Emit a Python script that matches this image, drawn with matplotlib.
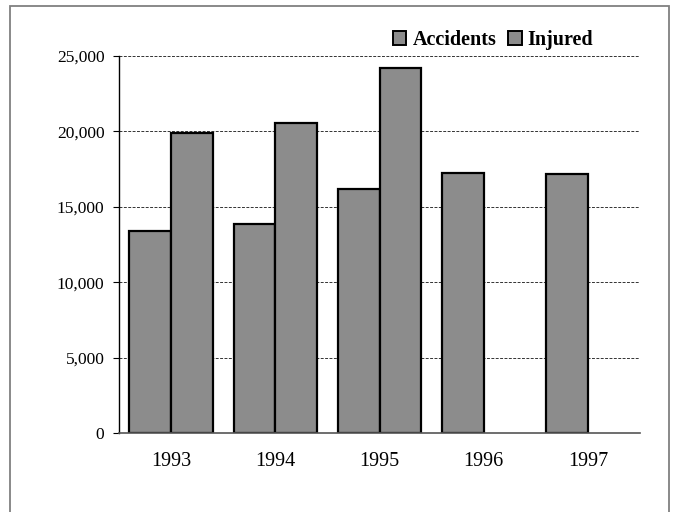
import matplotlib
matplotlib.use("Agg")
import matplotlib.pyplot as plt
from matplotlib.patches import Rectangle
from matplotlib.ticker import FuncFormatter
import numpy as np

years = ["1993", "1994", "1995", "1996", "1997"]
accidents = [13370, 13880, 16210, 17270, 17160]
injured = [19870, 20550, 24230, np.nan, np.nan]

BAR_COLOR = "#8c8c8c"

plt.rcParams["font.family"] = ["Liberation Serif", "DejaVu Serif"]

fig = plt.figure(figsize=(6.73, 5.12), dpi=100)
ax = fig.add_axes([119 / 673, 79 / 512, 521 / 673, 377 / 512])

x = np.arange(len(years))
w = 0.4
ax.bar(x - w / 2, accidents, w, color=BAR_COLOR, edgecolor="black",
       linewidth=1.6, label="Accidents", zorder=3)
ax.bar(x + w / 2, injured, w, color=BAR_COLOR, edgecolor="black",
       linewidth=1.6, label="Injured", zorder=3)

ax.set_xlim(-0.5, len(years) - 0.5)
ax.set_ylim(0, 25000)
ax.set_yticks(range(0, 25001, 5000))
ax.yaxis.set_major_formatter(FuncFormatter(lambda v, p: f"{int(v):,}"))
ax.set_xticks(x)
ax.set_xticklabels(years)

ax.grid(axis="y", color="#333333", linestyle=(0, (3, 1.5)), linewidth=0.7, zorder=0)
for s in ("top", "right"):
    ax.spines[s].set_visible(False)
ax.spines["left"].set_color("black")
ax.spines["left"].set_linewidth(1.0)
ax.spines["bottom"].set_color("#555555")
ax.spines["bottom"].set_linewidth(1.2)
ax.spines["bottom"].set_zorder(4)

ax.tick_params(axis="y", direction="out", length=4.5, width=0.8, pad=6, labelsize=12.5)
ax.tick_params(axis="x", length=0, pad=14, labelsize=14.5)

leg = fig.legend(loc="center", bbox_to_anchor=(0.733, 0.922), ncol=2,
                 frameon=True, facecolor="white", edgecolor="none", framealpha=1,
                 handlelength=0.65, handleheight=0.65, handletextpad=0.3,
                 columnspacing=0.6, borderpad=0.2,
                 prop={"weight": "bold", "size": 14.5})
for h in leg.legend_handles:
    h.set_linewidth(1.4)

# outer chart border
fig.patches.append(Rectangle((10 / 673, -0.02), 659 / 673, 1 - 6 / 512 + 0.02,
                             transform=fig.transFigure, fill=False,
                             edgecolor="#808080", linewidth=1.3))

fig.savefig("out.png", dpi=100, facecolor="white")
